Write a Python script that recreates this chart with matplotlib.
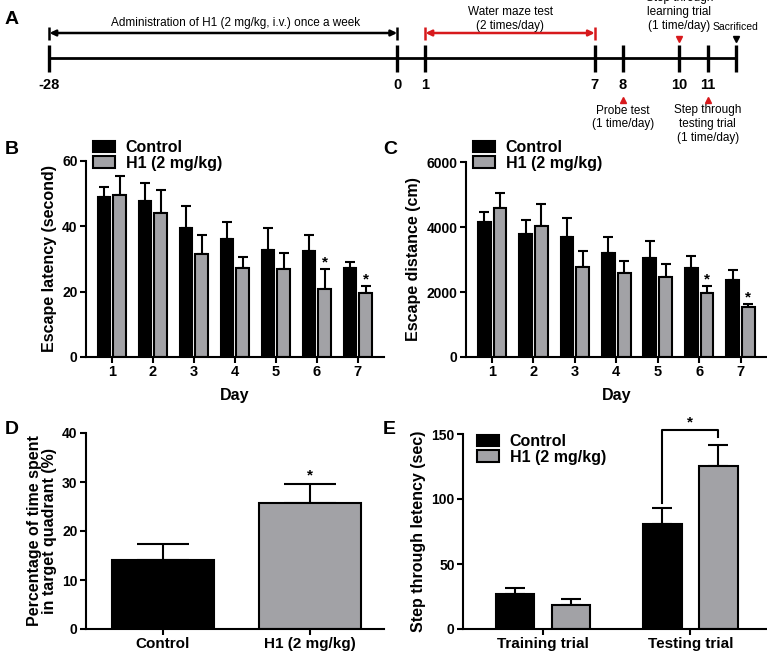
import numpy as np
import matplotlib
matplotlib.use("Agg")
import matplotlib.pyplot as plt
from matplotlib.patches import Patch

# ---------------- data ----------------
timeline_days = [-28, 0, 1, 7, 8, 10, 11, 12]
timeline_labels = ['-28', '0', '1', '7', '8', '10', '11', '']

days = [1, 2, 3, 4, 5, 6, 7]
latency_ctrl = [49.0, 47.7, 39.6, 36.2, 32.9, 32.4, 27.3]
latency_ctrl_err = [3.0, 5.7, 6.6, 5.1, 6.5, 4.8, 1.8]
latency_h1 = [49.5, 44.2, 31.6, 27.1, 26.8, 20.7, 19.6]
latency_h1_err = [5.8, 6.9, 5.9, 3.6, 4.9, 6.1, 2.1]
latency_sig = [6, 7]

distance_ctrl = [4160, 3800, 3680, 3210, 3050, 2730, 2370]
distance_ctrl_err = [310, 410, 610, 470, 520, 390, 310]
distance_h1 = [4600, 4030, 2780, 2600, 2450, 1960, 1550]
distance_h1_err = [460, 690, 490, 340, 400, 225, 85]
distance_sig = [6, 7]

probe_groups = ['Control', 'H1 (2 mg/kg)']
probe_mean = [14.1, 25.7]
probe_err = [3.2, 3.8]

step_trials = ['Training trial', 'Testing trial']
step_ctrl = [26.9, 80.8]
step_ctrl_err = [4.9, 12.5]
step_h1 = [18.5, 125.4]
step_h1_err = [4.3, 16.1]

series_names = ['Control', 'H1 (2 mg/kg)']

# ---------------- style ----------------
W, H = 767, 655
fig = plt.figure(figsize=(W / 100, H / 100), dpi=100)
plt.rcParams['font.family'] = ['Liberation Sans', 'DejaVu Sans']

BLACK = '#000000'
GRAY = '#a2a2a6'
RED = '#d7191c'
LW = 1.5


def px_axes(l, t, r, b):
    return fig.add_axes([l / W, 1 - b / H, (r - l) / W, (b - t) / H])


def style_axes(ax):
    for s in ['top', 'right']:
        ax.spines[s].set_visible(False)
    for s in ['left', 'bottom']:
        ax.spines[s].set_linewidth(LW)
    ax.tick_params(width=LW, length=4, labelsize=10, pad=2)
    for lab in ax.get_xticklabels() + ax.get_yticklabels():
        lab.set_fontweight('bold')


def bars(ax, x, vals, errs, width, color, capsize):
    ax.bar(x, vals, width=width, color=color, edgecolor=BLACK, linewidth=LW, zorder=2)
    ax.errorbar(x, vals, yerr=[np.zeros(len(vals)), errs], fmt='none',
                ecolor=BLACK, elinewidth=LW, capsize=capsize, capthick=LW, zorder=1)


def legend(ax, xpx, ypx):
    handles = [Patch(facecolor=BLACK, edgecolor=BLACK, linewidth=LW),
               Patch(facecolor=GRAY, edgecolor=BLACK, linewidth=LW)]
    ax.legend(handles, series_names, loc='upper left',
              bbox_to_anchor=(xpx / W, 1 - ypx / H), bbox_transform=fig.transFigure,
              frameon=False, prop={'weight': 'bold', 'size': 11.5},
              handlelength=1.35, handleheight=0.75, labelspacing=0.05,
              handletextpad=0.7, borderpad=0, borderaxespad=0)


def panel_letter(xpx, ypx, s):
    fig.text(xpx / W, 1 - ypx / H, s, fontsize=14, fontweight='bold',
             ha='left', va='center')


# ---------------- panel A: timeline ----------------
axA = px_axes(0, 0, W, 145)
axA.set_xscale('function', functions=(lambda d: np.where(d < 0, d * 0.44, d),
                                      lambda p: np.where(p < 0, p / 0.44, p)))
axA.set_xlim(-31.98, 13.10)
axA.set_ylim(145, 0)
axA.axis('off')

y_line = 58
axA.plot([timeline_days[0], timeline_days[-1]], [y_line, y_line], color=BLACK, lw=2,
         solid_capstyle='butt')
for d, lab in zip(timeline_days, timeline_labels):
    axA.plot([d, d], [45, 72], color=BLACK, lw=2.4, solid_capstyle='butt')
    axA.text(d, 85, lab, ha='center', va='center', fontsize=10.5, fontweight='bold')


def span_arrow(d0, d1, color):
    axA.annotate('', xy=(d0, 33), xytext=(d1, 33),
                 arrowprops=dict(arrowstyle='<|-|>,head_length=0.35,head_width=0.17',
                                 color=color, lw=1.8, shrinkA=0, shrinkB=0))
    for d in (d0, d1):
        axA.plot([d, d], [27, 40], color=color, lw=1.8, solid_capstyle='butt')


span_arrow(timeline_days[0], timeline_days[1], BLACK)
span_arrow(timeline_days[2], timeline_days[3], RED)

axA.text(-13.0, 23, 'Administration of H1 (2 mg/kg, i.v.) once a week',
         ha='center', va='center', fontsize=8.5)
axA.text(4, 12, 'Water maze test', ha='center', va='center', fontsize=8.5)
axA.text(4, 25.5, '(2 times/day)', ha='center', va='center', fontsize=8.5)

axA.text(10, -2, 'Step through', ha='center', va='center', fontsize=8.5)
axA.text(10, 12, 'learning trial', ha='center', va='center', fontsize=8.5)
axA.text(10, 25.5, '(1 time/day)', ha='center', va='center', fontsize=8.5)
axA.text(12, 27, 'Sacrificed', ha='center', va='center', fontsize=7.5)
axA.plot([10], [39], marker='v', color=RED, markersize=5, linestyle='none')
axA.plot([12], [39], marker='v', color=BLACK, markersize=5, linestyle='none')

axA.plot([8], [100], marker='^', color=RED, markersize=5, linestyle='none')
axA.text(8, 110.5, 'Probe test', ha='center', va='center', fontsize=8.5)
axA.text(8, 124.5, '(1 time/day)', ha='center', va='center', fontsize=8.5)
axA.plot([11], [100], marker='^', color=RED, markersize=5, linestyle='none')
axA.text(11, 110.5, 'Step through', ha='center', va='center', fontsize=8.5)
axA.text(11, 124.5, 'testing trial', ha='center', va='center', fontsize=8.5)
axA.text(11, 138, '(1 time/day)', ha='center', va='center', fontsize=8.5)

panel_letter(5, 20, 'A')

# ---------------- panel B ----------------
x = np.array(days, dtype=float)
bw = 0.31
off = 0.19

axB = px_axes(86, 161, 384, 357)
bars(axB, x - off, latency_ctrl, latency_ctrl_err, bw, BLACK, 3.5)
bars(axB, x + off, latency_h1, latency_h1_err, bw, GRAY, 3.5)
axB.set_xlim(0.37, 7.64)
axB.set_ylim(0, 60)
axB.set_yticks([0, 20, 40, 60])
axB.set_xticks(days)
axB.set_xlabel('Day', fontsize=11.5, fontweight='bold', labelpad=6)
axB.set_ylabel('Escape latency (second)', fontsize=11.5, fontweight='bold', labelpad=4)
style_axes(axB)
axB.tick_params(axis='x', labelsize=10.5)
for d in latency_sig:
    i = days.index(d)
    axB.text(d + off, latency_h1[i] + latency_h1_err[i] + 0.8, '*', ha='center',
             va='baseline', fontsize=11, fontweight='bold')
legend(axB, 93, 140)
panel_letter(5, 150, 'B')

# ---------------- panel C ----------------
axC = px_axes(466, 162, 767, 357)
bars(axC, x - off, distance_ctrl, distance_ctrl_err, bw, BLACK, 3.5)
bars(axC, x + off, distance_h1, distance_h1_err, bw, GRAY, 3.5)
axC.set_xlim(0.37, 7.64)
axC.set_ylim(0, 6000)
axC.set_yticks([0, 2000, 4000, 6000])
axC.set_xticks(days)
axC.set_xlabel('Day', fontsize=11.5, fontweight='bold', labelpad=6)
axC.set_ylabel('Escape distance (cm)', fontsize=11.5, fontweight='bold', labelpad=4)
style_axes(axC)
axC.tick_params(axis='x', labelsize=10.5)
for d in distance_sig:
    i = days.index(d)
    axC.text(d + off, distance_h1[i] + distance_h1_err[i] + 80, '*', ha='center',
             va='baseline', fontsize=11, fontweight='bold')
legend(axC, 473, 140)
panel_letter(383, 150, 'C')

# ---------------- panel D ----------------
axD = px_axes(86, 433, 384, 629)
xd = np.arange(len(probe_groups))
axD.bar(xd, probe_mean, width=0.69, color=[BLACK, GRAY], edgecolor=BLACK, linewidth=LW,
        zorder=2)
axD.errorbar(xd, probe_mean, yerr=[np.zeros(2), probe_err], fmt='none', ecolor=BLACK,
             elinewidth=LW, capsize=18.5, capthick=LW, zorder=1)
axD.set_xlim(-0.52, 1.5)
axD.set_ylim(0, 40)
axD.set_yticks([0, 10, 20, 30, 40])
axD.set_xticks(xd)
axD.set_xticklabels(probe_groups)
axD.set_ylabel('Percentage of time spent\nin target quadrant (%)', fontsize=11.5,
               fontweight='bold', labelpad=4, linespacing=1.0)
style_axes(axD)
axD.tick_params(axis='x', labelsize=11)
axD.text(1, probe_mean[1] + probe_err[1] + 1.0, '*', ha='center', va='baseline',
         fontsize=11, fontweight='bold')
panel_letter(5, 430, 'D')

# ---------------- panel E ----------------
axE = px_axes(463, 434, 767, 629)
xe = np.arange(len(step_trials))
bars(axE, xe - off, step_ctrl, step_ctrl_err, 0.26, BLACK, 7.5)
bars(axE, xe + off, step_h1, step_h1_err, 0.26, GRAY, 7.5)
axE.set_xlim(-0.544, 1.52)
axE.set_ylim(0, 150)
axE.set_yticks([0, 50, 100, 150])
axE.set_xticks(xe)
axE.set_xticklabels(step_trials)
axE.set_ylabel('Step through letency (sec)', fontsize=11.5, fontweight='bold', labelpad=4)
style_axes(axE)
axE.tick_params(axis='x', labelsize=11)
# significance bracket
yb = 153
x0, x1 = xe[1] - off, xe[1] + off
axE.plot([x0, x0, x1, x1], [step_ctrl[1] + step_ctrl_err[1] + 3.5, yb, yb,
                            step_h1[1] + step_h1_err[1] + 6.5],
         color=BLACK, lw=LW, clip_on=False)
axE.text((x0 + x1) / 2, yb + 3, '*', ha='center', va='baseline', fontsize=11,
         fontweight='bold', clip_on=False)
legend(axE, 477, 434)
panel_letter(383, 430, 'E')

fig.savefig('out.png', dpi=100)
